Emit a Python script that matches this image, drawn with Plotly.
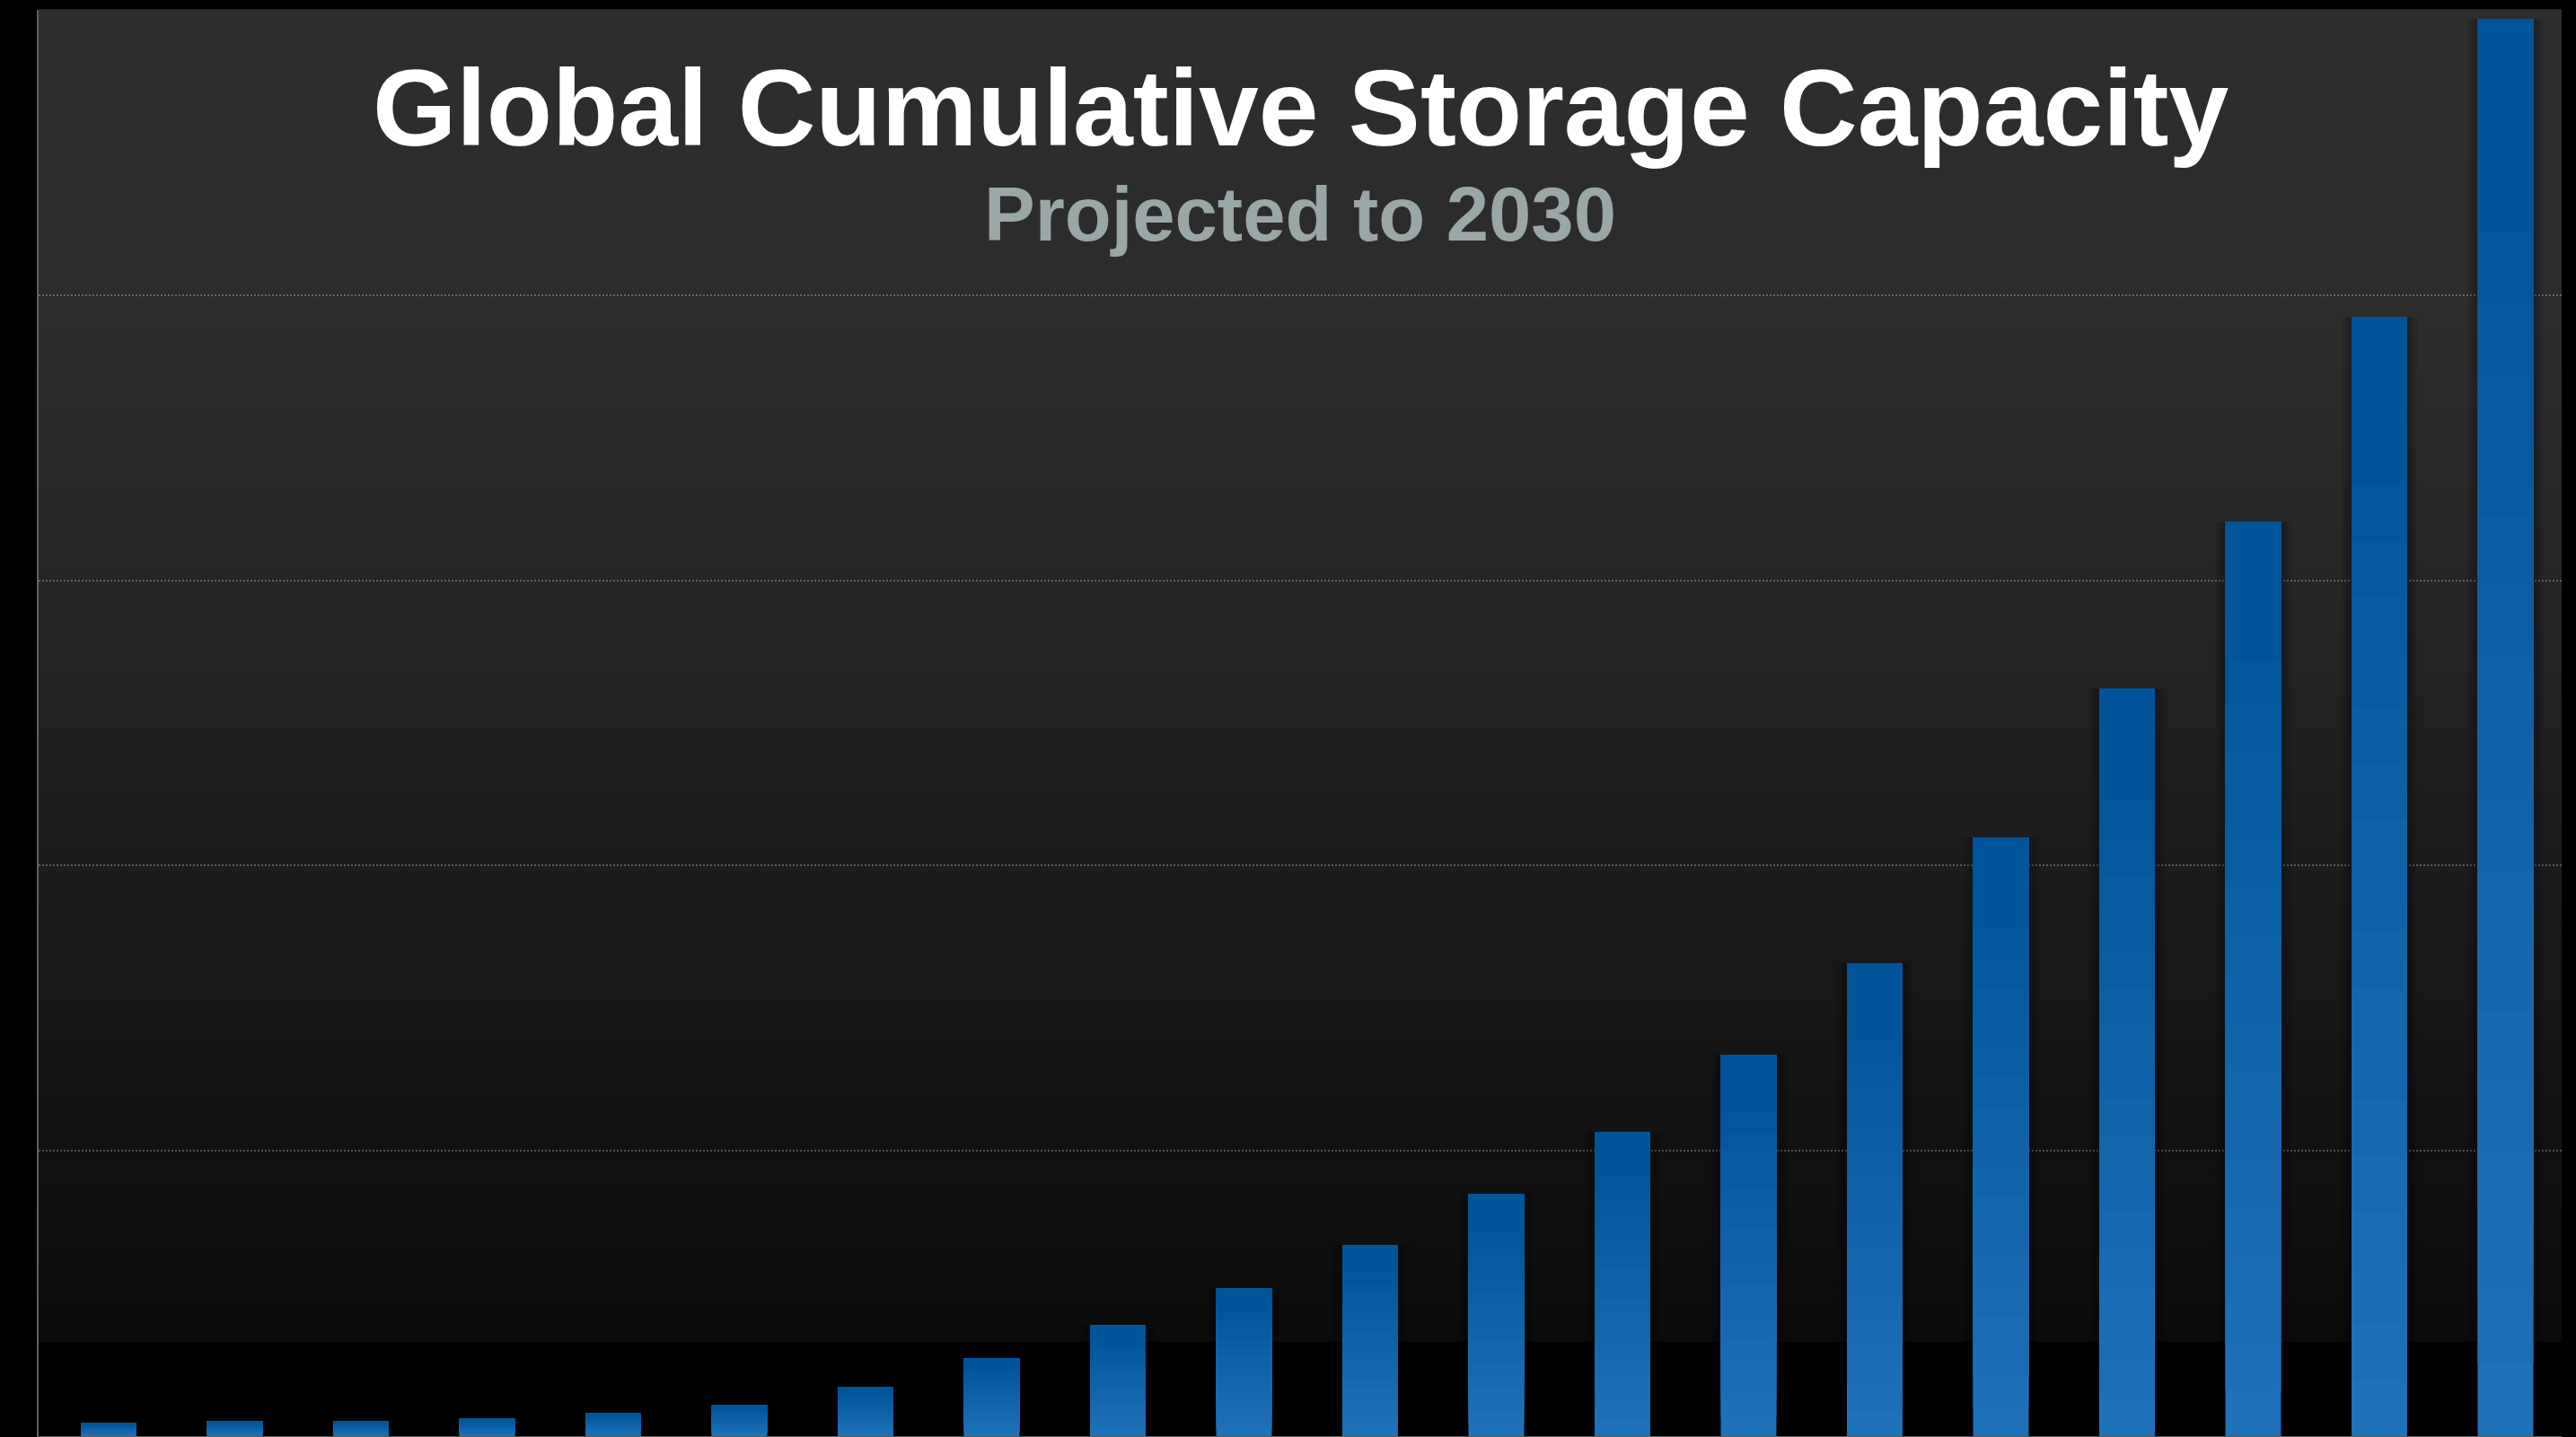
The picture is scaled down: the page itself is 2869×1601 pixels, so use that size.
import plotly.graph_objects as go

# ---- data ----
years = list(range(2011, 2031))
capacity = [4.6, 5.2, 5.2, 6.1, 8.0, 10.9, 17.2, 27.2, 38.9, 51.8,
            66.9, 84.8, 106.5, 133.6, 165.7, 209.8, 262.0, 320.6, 392.4, 496.6]
y_ticks = [0, 100, 200, 300, 400, 500]

title_text = "Global Cumulative Storage Capacity"
subtitle_text = "Projected to 2030"

# ---- styling ----
W, H = 2869, 1601
OFF = 8  # default page body margin
M_L, M_R, M_T, M_B = 43 - OFF, 16 + OFF, 11 - OFF, 1 + OFF
PLOT_H = H - M_T - M_B
BAR_W = 0.441
TOP_COL = (0, 85, 154)
BOT_COL = (31, 113, 185)
N_BANDS = 20


def mix(c1, c2, t):
    return "rgb(%d,%d,%d)" % tuple(round(a + (b - a) * t) for a, b in zip(c1, c2))


def py(px):
    """page pixel row (reference coords) -> paper y"""
    return (H - M_B - (px - OFF)) / PLOT_H


fig = go.Figure()

# soft shadow behind bars
for k in range(1, 5):
    fig.add_trace(go.Bar(
        x=years, y=capacity, width=BAR_W + 0.04 * k,
        marker=dict(color="rgba(0,0,0,0.07)", line=dict(width=0)),
        hoverinfo="skip", showlegend=False))

# gradient bars: light at the bottom, dark at the top; each band spans
# from its base up to the bar top, drawn bottom-first so no seams appear
for k in range(N_BANDS - 1, -1, -1):
    t = min(1.0, max(0.0, (k / (N_BANDS - 1) - 0.1) / 0.9))
    frac_base = (N_BANDS - 1 - k) / N_BANDS
    fig.add_trace(go.Bar(
        x=years,
        y=[v * (1 - frac_base) for v in capacity],
        base=[v * frac_base for v in capacity],
        width=BAR_W,
        marker=dict(color=mix(TOP_COL, BOT_COL, t), line=dict(width=0)),
        hoverinfo="skip", showlegend=False))

# background gradient of the plotting area
stops = [(11, 45), (350, 44), (700, 36), (1000, 27), (1300, 17), (1495, 11)]
shapes = []
n_bg = 70
for i in range(n_bg):
    y0p = 11 + (1495 - 11) * i / n_bg
    y1p = 11 + (1495 - 11) * (i + 1) / n_bg
    ym = (y0p + y1p) / 2
    for (a, ca), (b, cb) in zip(stops[:-1], stops[1:]):
        if a <= ym <= b:
            g = ca + (cb - ca) * (ym - a) / (b - a)
            break
    g = round(g)
    shapes.append(dict(type="rect", xref="paper", yref="paper",
                       x0=0, x1=1, y0=py(y1p), y1=py(y0p) + 0.0005,
                       fillcolor="rgb(%d,%d,%d)" % (g, g, g),
                       line=dict(width=0), layer="below"))
shapes.append(dict(type="rect", xref="paper", yref="paper",
                   x0=0, x1=1, y0=0, y1=py(1495),
                   fillcolor="#000000", line=dict(width=0), layer="below"))

fig.update_layout(
    width=W, height=H,
    margin=dict(l=M_L, r=M_R, t=M_T, b=M_B, pad=0),
    paper_bgcolor="#000000",
    plot_bgcolor="rgba(0,0,0,0)",
    barmode="overlay",
    showlegend=False,
    shapes=shapes,
    font=dict(family="Liberation Sans, Arial, sans-serif"),
    xaxis=dict(
        range=[years[0] - 0.555, years[-1] + 0.445],
        showgrid=False, zeroline=False,
        showticklabels=False, ticks="",
        showline=True, linecolor="#585d5b", linewidth=2,
        fixedrange=True),
    yaxis=dict(
        range=[0, 500], tickvals=y_ticks,
        showgrid=True, gridcolor="rgba(255,255,255,0.27)",
        gridwidth=2, griddash="2px,2px",
        zeroline=False, showticklabels=False, ticks="",
        showline=True, linecolor="#5c6260", linewidth=2,
        fixedrange=True),
    annotations=[
        dict(text=title_text, xref="paper", yref="paper",
             x=0.5, y=py(121), xanchor="center", yanchor="middle",
             showarrow=False,
             font=dict(family="Liberation Sans, Arial, sans-serif",
                       size=120, color="#ffffff", weight="bold")),
        dict(text=subtitle_text, xref="paper", yref="paper",
             x=0.5, y=py(239), xanchor="center", yanchor="middle",
             showarrow=False,
             font=dict(family="Liberation Sans, Arial, sans-serif",
                       size=85, color="#9ba6a6", weight="bold")),
    ],
)

fig.write_html("out.html",
               post_script="document.body.style.background='#000000';")
